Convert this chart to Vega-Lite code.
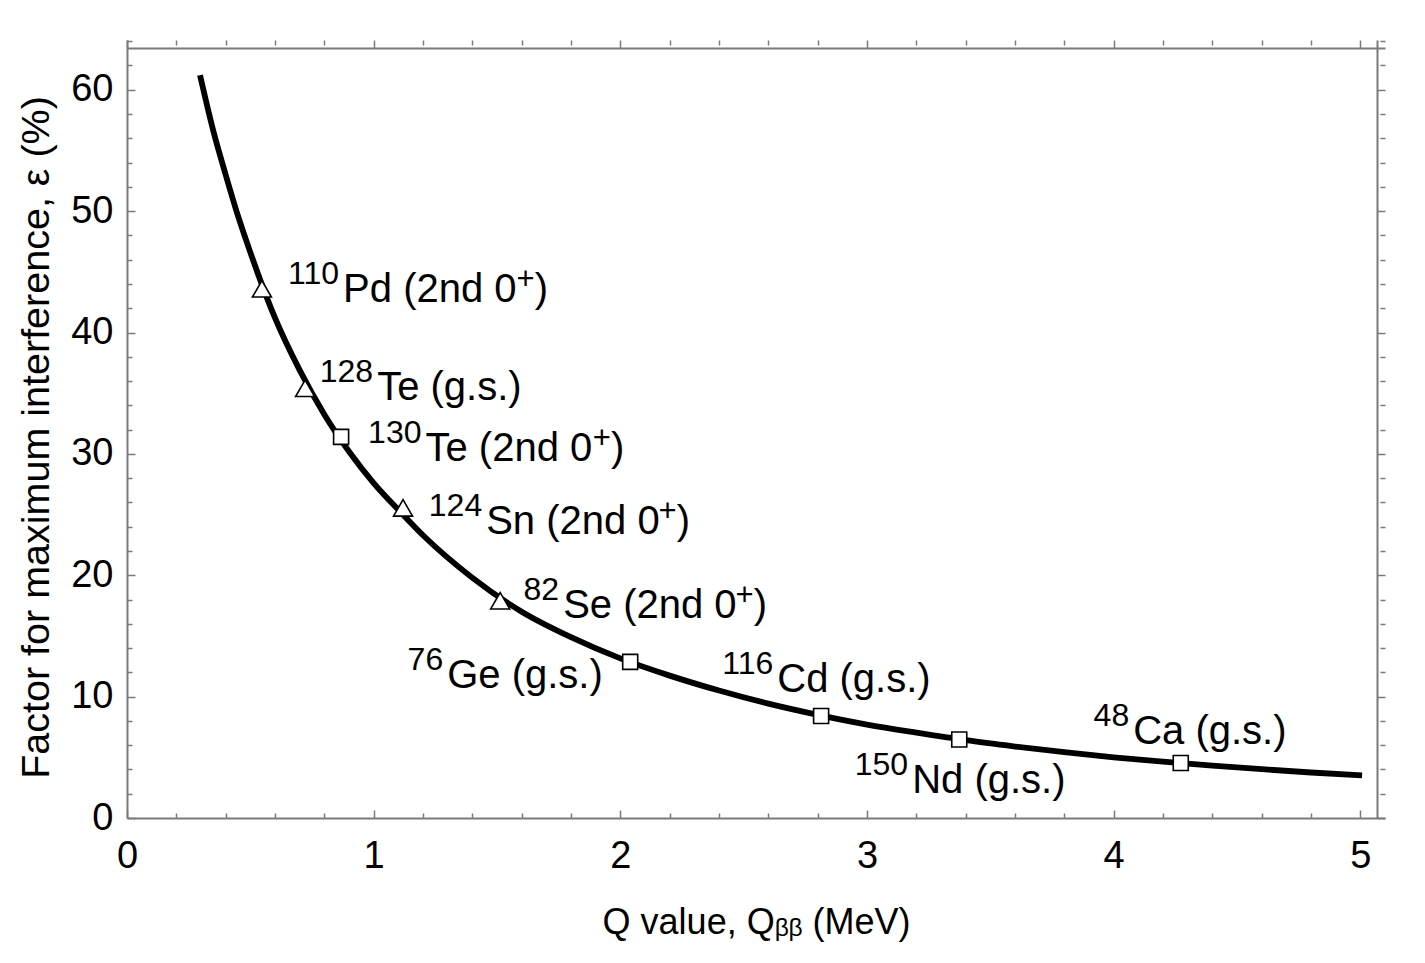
{
  "$schema": "https://vega.github.io/schema/vega-lite/v6.json",
  "width": 1258,
  "height": 778,
  "autosize": "none",
  "padding": {"left": 127, "top": 40, "right": 40, "bottom": 145},
  "background": "white",
  "config": {
    "view": {"stroke": null},
    "font": "Liberation Sans",
    "axis": {"grid": false, "domainColor": "#7a7a7a", "domainWidth": 2, "tickColor": "#7a7a7a", "tickWidth": 1.5, "labelColor": "black", "titleColor": "black", "labelFont": "Liberation Sans", "titleFont": "Liberation Sans", "titleFontWeight": "normal"}
  },
  "datasets": {
    "curve": [
      {"Q": 0.296, "eps": 61.2},
      {"Q": 0.35, "eps": 56.6},
      {"Q": 0.4, "eps": 53.0},
      {"Q": 0.45, "eps": 49.6},
      {"Q": 0.5, "eps": 46.6},
      {"Q": 0.6, "eps": 41.2},
      {"Q": 0.7, "eps": 36.9},
      {"Q": 0.8, "eps": 33.25},
      {"Q": 0.9, "eps": 30.2},
      {"Q": 1.0, "eps": 27.6},
      {"Q": 1.1, "eps": 25.4},
      {"Q": 1.2, "eps": 23.3},
      {"Q": 1.4, "eps": 19.8},
      {"Q": 1.6, "eps": 17.0},
      {"Q": 1.8, "eps": 14.9},
      {"Q": 2.0, "eps": 13.15},
      {"Q": 2.2, "eps": 11.73},
      {"Q": 2.4, "eps": 10.5},
      {"Q": 2.6, "eps": 9.42},
      {"Q": 2.8, "eps": 8.5},
      {"Q": 3.0, "eps": 7.7},
      {"Q": 3.2, "eps": 7.03},
      {"Q": 3.4, "eps": 6.41},
      {"Q": 3.6, "eps": 5.89},
      {"Q": 3.8, "eps": 5.42},
      {"Q": 4.0, "eps": 5.0},
      {"Q": 4.2, "eps": 4.64},
      {"Q": 4.4, "eps": 4.32},
      {"Q": 4.6, "eps": 4.02},
      {"Q": 4.8, "eps": 3.75},
      {"Q": 5.007, "eps": 3.52}
    ],
    "nuclei": [
      {"mass": "110", "name": "Pd (2nd 0", "marker": "triangle", "Q": 0.547, "eps": 43.6, "lx": 0.868, "ly": 42.54, "ex": 1.707},
      {"mass": "128", "name": "Te (g.s.)", "marker": "triangle", "Q": 0.722, "eps": 35.4, "lx": 1.006, "ly": 34.45, "ex": null},
      {"mass": "130", "name": "Te (2nd 0", "marker": "square", "Q": 0.868, "eps": 31.4, "lx": 1.202, "ly": 29.42, "ex": 2.016},
      {"mass": "124", "name": "Sn (2nd 0", "marker": "triangle", "Q": 1.119, "eps": 25.55, "lx": 1.448, "ly": 23.41, "ex": 2.283},
      {"mass": "82", "name": "Se (2nd 0", "marker": "triangle", "Q": 1.513, "eps": 17.9, "lx": 1.760, "ly": 16.48, "ex": 2.595},
      {"mass": "76", "name": "Ge (g.s.)", "marker": "square", "Q": 2.040, "eps": 12.86, "lx": 1.290, "ly": 10.71, "ex": null},
      {"mass": "116", "name": "Cd (g.s.)", "marker": "square", "Q": 2.814, "eps": 8.41, "lx": 2.628, "ly": 10.38, "ex": null},
      {"mass": "150", "name": "Nd (g.s.)", "marker": "square", "Q": 3.374, "eps": 6.47, "lx": 3.175, "ly": 2.06, "ex": null},
      {"mass": "48", "name": "Ca (g.s.)", "marker": "square", "Q": 4.272, "eps": 4.53, "lx": 4.071, "ly": 6.10, "ex": null}
    ]
  },
  "resolve": {"axis": {"x": "independent", "y": "independent"}},
  "layer": [
    {
      "data": {"name": "curve"},
      "mark": {"type": "line", "color": "black", "strokeWidth": 5.8, "interpolate": "monotone", "clip": true},
      "encoding": {
        "x": {"field": "Q", "type": "quantitative", "scale": {"domain": [0, 5.1], "nice": false, "zero": false},
          "axis": {"orient": "bottom", "values": [0, 1, 2, 3, 4, 5], "ticks": false, "domain": true, "labelFontSize": 38, "labelBaseline": "alphabetic", "labelPadding": 49, "labelFlush": false, "labelOverlap": false,
            "title": "Q value, Qᵦᵦ (MeV)", "titleFontSize": 36, "titleBaseline": "alphabetic", "titleY": 115}},
        "y": {"field": "eps", "type": "quantitative", "scale": {"domain": [0, 64.1], "nice": false, "zero": false},
          "axis": {"orient": "left", "values": [0, 10, 20, 30, 40, 50, 60], "ticks": false, "domain": true, "labelFontSize": 38, "labelBaseline": "middle", "labelPadding": 14, "labelFlush": false, "labelOverlap": false,
            "title": "Factor for maximum interference, ε (%)", "titleFontSize": 39.5, "titleBaseline": "alphabetic", "titleAngle": -90, "titleX": -79, "titleY": 397}}
      }
    },
    {
      "data": {"name": "nuclei"},
      "transform": [{"filter": "datum.marker === 'square'"}],
      "mark": {"type": "point", "shape": "square", "size": 225, "filled": false, "fill": "white", "fillOpacity": 1, "stroke": "black", "strokeWidth": 1.6, "opacity": 1},
      "encoding": {
        "x": {"field": "Q", "type": "quantitative", "axis": {"orient": "bottom", "values": [0, 1, 2, 3, 4, 5], "labels": false, "domain": false, "tickSize": 8, "offset": -8, "title": null}},
        "y": {"field": "eps", "type": "quantitative", "axis": {"orient": "left", "values": [0, 10, 20, 30, 40, 50, 60], "labels": false, "domain": false, "tickSize": 8, "offset": -8, "title": null}}
      }
    },
    {
      "data": {"name": "nuclei"},
      "transform": [{"filter": "datum.marker === 'triangle'"}],
      "mark": {"type": "point", "shape": "triangle-up", "size": 361, "filled": false, "fill": "white", "fillOpacity": 1, "stroke": "black", "strokeWidth": 1.6, "opacity": 1},
      "encoding": {
        "x": {"field": "Q", "type": "quantitative", "axis": {"orient": "bottom", "values": [0.2, 0.4, 0.6, 0.8, 1.2, 1.4, 1.6, 1.8, 2.2, 2.4, 2.6, 2.8, 3.2, 3.4, 3.6, 3.8, 4.2, 4.4, 4.6, 4.8], "labels": false, "domain": false, "tickSize": 5, "offset": -5, "title": null}},
        "y": {"field": "eps", "type": "quantitative", "axis": {"orient": "left", "values": [2, 4, 6, 8, 12, 14, 16, 18, 22, 24, 26, 28, 32, 34, 36, 38, 42, 44, 46, 48, 52, 54, 56, 58, 62, 64], "labels": false, "domain": false, "tickSize": 5, "offset": -5, "title": null}}
      }
    },
    {
      "data": {"name": "nuclei"},
      "mark": {"type": "text", "align": "right", "baseline": "alphabetic", "fontSize": 32, "dx": -2, "dy": -18, "color": "black", "font": "Liberation Sans"},
      "encoding": {
        "x": {"field": "lx", "type": "quantitative", "axis": {"orient": "top", "values": [0, 1, 2, 3, 4, 5], "labels": false, "domain": true, "tickSize": 8, "offset": -8, "title": null}},
        "y": {"field": "ly", "type": "quantitative", "axis": {"orient": "right", "values": [0, 10, 20, 30, 40, 50, 60], "labels": false, "domain": true, "tickSize": 8, "offset": -8, "title": null}},
        "text": {"field": "mass"}
      }
    },
    {
      "data": {"name": "nuclei"},
      "mark": {"type": "text", "align": "left", "baseline": "alphabetic", "fontSize": 40, "dx": 2, "color": "black", "font": "Liberation Sans"},
      "encoding": {
        "x": {"field": "lx", "type": "quantitative", "axis": {"orient": "top", "values": [0.2, 0.4, 0.6, 0.8, 1.2, 1.4, 1.6, 1.8, 2.2, 2.4, 2.6, 2.8, 3.2, 3.4, 3.6, 3.8, 4.2, 4.4, 4.6, 4.8], "labels": false, "domain": false, "tickSize": 5, "offset": -5, "title": null}},
        "y": {"field": "ly", "type": "quantitative", "axis": {"orient": "right", "values": [2, 4, 6, 8, 12, 14, 16, 18, 22, 24, 26, 28, 32, 34, 36, 38, 42, 44, 46, 48, 52, 54, 56, 58, 62, 64], "labels": false, "domain": false, "tickSize": 5, "offset": -5, "title": null}},
        "text": {"field": "name"}
      }
    },
    {
      "data": {"name": "nuclei"},
      "transform": [{"filter": "isValid(datum.ex)"}],
      "mark": {"type": "text", "align": "right", "baseline": "alphabetic", "fontSize": 31, "dx": -13.5, "dy": -13, "color": "black", "font": "Liberation Sans", "text": "+"},
      "encoding": {
        "x": {"field": "ex", "type": "quantitative", "axis": null},
        "y": {"field": "ly", "type": "quantitative", "axis": null}
      }
    },
    {
      "data": {"name": "nuclei"},
      "transform": [{"filter": "isValid(datum.ex)"}],
      "mark": {"type": "text", "align": "right", "baseline": "alphabetic", "fontSize": 40, "color": "black", "font": "Liberation Sans", "text": ")"},
      "encoding": {
        "x": {"field": "ex", "type": "quantitative", "axis": null},
        "y": {"field": "ly", "type": "quantitative", "axis": null}
      }
    }
  ]
}
